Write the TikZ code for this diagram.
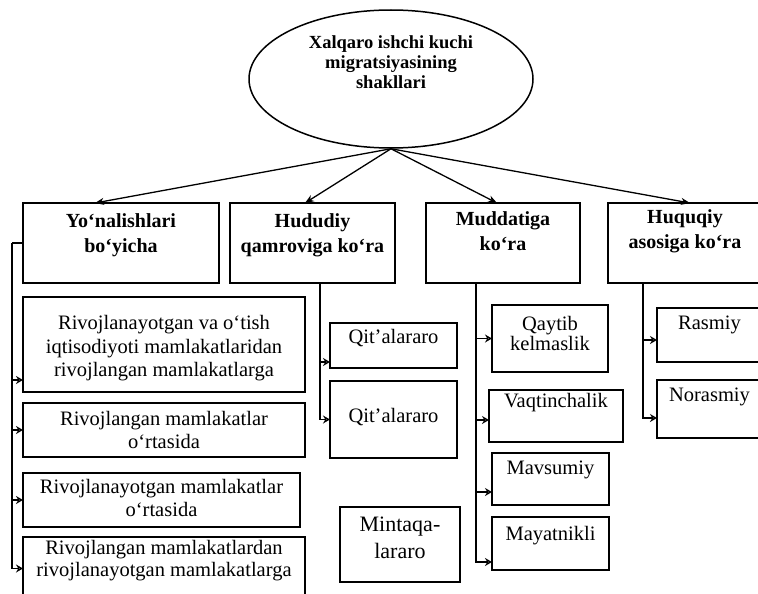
\documentclass[tikz,border=0pt]{standalone}
\usepackage{fontspec}
\setmainfont{Liberation Serif}
\usetikzlibrary{arrows.meta, shapes.geometric}

\tikzset{
  box/.style={draw, line width=1.6pt, inner sep=0pt, outer sep=0pt, anchor=north west},
  txt/.style={inner sep=0pt, align=center, font=\fontsize{20.5}{23.5}\selectfont},
  head/.style={txt, font=\fontsize{20}{25}\selectfont\bfseries},
  fromroot/.style={line width=1.3pt, -{Stealth[length=9pt,width=7pt]}},
  branch/.style={line width=1.3pt, -{Stealth[open,length=7pt,width=8pt]}}
}

\begin{document}
\begin{tikzpicture}[x=1pt, y=-1pt]
\useasboundingbox (0,0) rectangle (758,594);
\clip (0,0) rectangle (758,594);

% root
\node[ellipse, draw, line width=1.5pt, minimum width=284pt, minimum height=138pt, inner sep=0pt,
  label={[head, font=\fontsize{18.5}{20}\selectfont\bfseries, yshift=17pt]center:{Xalqaro ishchi kuchi\\migratsiyasining\\shakllari}}] (root) at (391,79) {};

% top row
\node[box, minimum width=196pt, minimum height=80pt, label={[head, yshift=8pt]center:{Yo‘nalishlari\\bo‘yicha}}] (yon) at (23,203) {};
\node[box, minimum width=165pt, minimum height=80pt, label={[head, yshift=8pt]center:{Hududiy\\qamroviga ko‘ra}}] (hud) at (230,203) {};
\node[box, minimum width=154pt, minimum height=80pt, label={[head, yshift=12pt]center:{Muddatiga\\ko‘ra}}] (mud) at (426,203) {};
\node[box, minimum width=154pt, minimum height=80pt, label={[head, yshift=12pt]center:{Huquqiy\\asosiga ko‘ra}}] (huq) at (608,203) {};

\draw[fromroot] (root.south) -- ([xshift=-26pt]yon.north);
\draw[fromroot] (root.south) -- ([xshift=-7.5pt]hud.north);
\draw[fromroot] (root.south) -- ([xshift=-6pt]mud.north);
\draw[fromroot] (root.south) -- ([xshift=5pt]huq.north);

% yo'nalishlari
\node[box, minimum width=282pt, minimum height=95pt, label={[txt, yshift=-4pt]center:{Rivojlanayotgan va o‘tish\\iqtisodiyoti mamlakatlaridan\\rivojlangan mamlakatlarga}}] (s1) at (23,297) {};
\node[box, minimum width=282pt, minimum height=54pt, label={[txt]center:{Rivojlangan mamlakatlar\\o‘rtasida}}] (s2) at (23,403) {};
\node[box, minimum width=277pt, minimum height=54pt, label={[txt, yshift=2pt]center:{Rivojlanayotgan mamlakatlar\\o‘rtasida}}] (s3) at (23,473) {};
\node[box, minimum width=282pt, minimum height=63pt, label={[txt, font=\fontsize{20.5}{21.5}\selectfont, yshift=8pt]center:{Rivojlangan mamlakatlardan\\rivojlanayotgan mamlakatlarga}}] (s4) at (23,537) {};

\draw[line width=1.3pt] (yon.west) -- ++(-11,0) coordinate (ytop);
\draw[branch] (ytop) |- ([yshift=12pt]s1.south west);
\draw[branch] (ytop) |- (s2.west);
\draw[branch] (ytop) |- (s3.west);
\draw[branch] (ytop) |- (s4.west);

% hududiy
\node[box, minimum width=127pt, minimum height=45pt, label={[txt, yshift=7pt]center:{Qit’alararo}}] (q1) at (330,323) {};
\node[box, minimum width=127pt, minimum height=77pt, label={[txt, yshift=2pt]center:{Qit’alararo}}] (q2) at (330,381) {};
\node[box, minimum width=120pt, minimum height=75pt, label={[txt, font=\fontsize{22}{27}\selectfont, yshift=7pt]center:{Mintaqa-\\lararo}}] (mint) at (340,507) {};

\draw[branch] ([xshift=7.5pt]hud.south) |- ([yshift=6pt]q1.south west);
\draw[branch] ([xshift=7.5pt]hud.south) |- (q2.west);

% muddatiga
\node[box, minimum width=116pt, minimum height=67pt, label={[txt, font=\fontsize{20.5}{20}\selectfont, yshift=5pt]center:{Qaytib\\kelmaslik}}] (qay) at (492,305) {};
\node[box, minimum width=134pt, minimum height=52pt, label={[txt, yshift=13pt]center:{Vaqtinchalik}}] (vaq) at (489,390) {};
\node[box, minimum width=117pt, minimum height=52pt, label={[txt, yshift=9pt]center:{Mavsumiy}}] (mav) at (492,453) {};
\node[box, minimum width=117pt, minimum height=53pt, label={[txt, yshift=8pt]center:{Mayatnikli}}] (may) at (492,517) {};

\draw[branch] ([xshift=-27pt]mud.south) |- (qay.west);
\draw[branch] ([xshift=-27pt]mud.south) |- ([yshift=-4pt]vaq.west);
\draw[branch] ([xshift=-27pt]mud.south) |- ([yshift=13pt]mav.south west);
\draw[branch] ([xshift=-27pt]mud.south) |- ([yshift=8pt]may.south west);

% huquqiy
\node[box, minimum width=105pt, minimum height=54pt, label={[txt, yshift=10pt]center:{Rasmiy}}] (ras) at (657,308) {};
\node[box, minimum width=105pt, minimum height=58pt, label={[txt, yshift=12pt]center:{Norasmiy}}] (nor) at (657,380) {};

\draw[branch] ([xshift=-42pt]huq.south) |- ([yshift=-5pt]ras.west);
\draw[branch] ([xshift=-42pt]huq.south) |- ([yshift=-9pt]nor.west);
\end{tikzpicture}
\end{document}
